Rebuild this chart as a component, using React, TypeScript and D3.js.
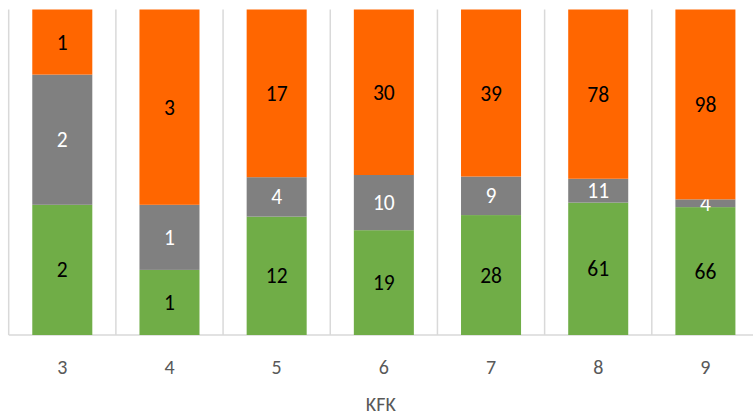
import React from "react";
import * as d3 from "d3";

const categories = ["3", "4", "5", "6", "7", "8", "9"];
const greenValues = [2, 1, 12, 19, 28, 61, 66];
const grayValues = [2, 1, 4, 10, 9, 11, 4];
const orangeValues = [1, 3, 17, 30, 39, 78, 98];
const axisTitle = "KFK";

const W = 753;
const H = 415;
const left = 8.7;
const right = 759;
const top = 9.5;
const bottom = 335;

export default function App() {
  const x = d3.scaleBand<string>().domain(categories).range([left, right]).paddingInner(0).paddingOuter(0);
  const y = d3.scaleLinear().domain([0, 1]).range([bottom, top]);
  const barW = x.bandwidth() * 0.56;
  const series = [
    { vals: greenValues, color: "#70AD47", text: "#000" },
    { vals: grayValues, color: "#808080", text: "#fff" },
    { vals: orangeValues, color: "#FF6600", text: "#000" },
  ];
  const font = "Carlito, Calibri, 'Open Sans', sans-serif";
  return (
    <svg width={W} height={H} style={{ position: "absolute", left: 0, top: 0 }}>
      {categories.map((c, i) => (
        <line key={"g" + c} x1={x(c)!} x2={x(c)!} y1={top} y2={bottom} stroke="#D9D9D9" strokeWidth={1.5} />
      ))}
      <line x1={left} x2={W} y1={bottom} y2={bottom} stroke="#D9D9D9" strokeWidth={1.5} />
      {categories.map((c, i) => {
        const total = greenValues[i] + grayValues[i] + orangeValues[i];
        let acc = 0;
        const cx = x(c)! + x.bandwidth() / 2;
        return (
          <g key={c}>
            {series.map((s, k) => {
              const v = s.vals[i];
              const y0 = y(acc / total);
              acc += v;
              const y1 = y(acc / total);
              return (
                <g key={k}>
                  <rect x={cx - barW / 2} y={y1} width={barW} height={y0 - y1} fill={s.color} />
                  <text x={cx} y={(y0 + y1) / 2} dy="0.35em" textAnchor="middle" fontSize={21.5} fontFamily={font} fill={s.text}>
                    {v}
                  </text>
                </g>
              );
            })}
            <text x={cx} y={367} dy="0.35em" textAnchor="middle" fontSize={20} fontFamily={font} fill="#595959">
              {c}
            </text>
          </g>
        );
      })}
      <text x={(left + W) / 2} y={404} dy="0.35em" textAnchor="middle" fontSize={20} fontFamily={font} fill="#595959">
        {axisTitle}
      </text>
    </svg>
  );
}
